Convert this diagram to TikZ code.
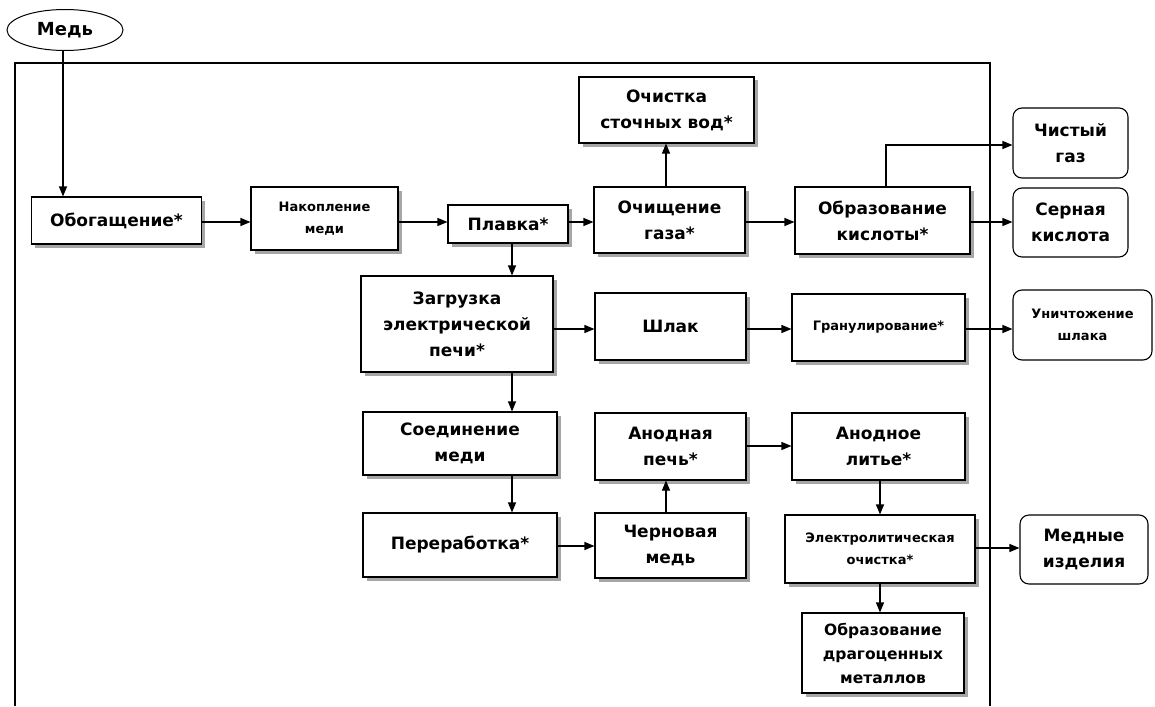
\documentclass[tikz,border=0pt]{standalone}
\usepackage{fontspec}
\setmainfont{DejaVu Sans}
\usetikzlibrary{shapes.geometric, arrows.meta, positioning, shadows}

\tikzset{
  proc/.style={draw, line width=1.1pt, fill=white, align=center, inner sep=0pt,
    font=\bfseries\fontsize{17}{26}\selectfont,
    drop shadow={shadow xshift=3.5pt, shadow yshift=-3.5pt, fill=gray!70, opacity=1}},
  small/.style={font=\bfseries\fontsize{13}{22}\selectfont},
  outbox/.style={draw, line width=1.1pt, rounded corners=9pt, fill=white, align=center,
    inner sep=0pt, font=\bfseries\fontsize{17}{26}\selectfont},
  arr/.style={-{Triangle[length=10pt,width=8pt]}, line width=1.1pt}
}

\begin{document}
\begin{tikzpicture}[x=1pt, y=-1pt]
\useasboundingbox (0,0) rectangle (1155,706);

% frame
\draw[line width=1.1pt] (15,706) -- (15,63) -- (990,63) -- (990,706);

% source
\node[draw, ellipse, line width=1pt, minimum width=116pt, minimum height=41pt, inner sep=0pt,
  font=\bfseries\fontsize{18}{20}\selectfont] (med) at (65,30) {Медь};

% top row
\node[proc, minimum width=170pt, minimum height=47pt] (obog) at (116.5,220.5) {Обогащение*};
\node[proc, small, minimum width=147pt, minimum height=63pt] (nakop) at (324.5,218.5) {Накопление\\меди};
\node[proc, minimum width=120pt, minimum height=38pt] (plavka) at (508,224) {Плавка*};
\node[proc, minimum width=151pt, minimum height=66pt] (ochgaz) at (669.5,220) {Очищение\\газа*};
\node[proc, minimum width=175pt, minimum height=66pt] (ochvod) at (666.5,110) {Очистка\\сточных вод*};
\node[proc, minimum width=175pt, minimum height=67pt] (obrkis) at (882.5,220.5) {Образование\\кислоты*};
\node[outbox, minimum width=115pt, minimum height=70pt] (gaz) at (1070.5,143) {Чистый\\газ};
\node[outbox, minimum width=115pt, minimum height=69pt] (kisl) at (1070.5,222.5) {Серная\\кислота};

% middle row
\node[proc, minimum width=192pt, minimum height=96pt] (zagr) at (457,324) {Загрузка\\электрической\\печи*};
\node[proc, minimum width=151pt, minimum height=67pt] (shlak) at (670.5,326.5) {Шлак};
\node[proc, small, minimum width=173pt, minimum height=67pt] (granul) at (878.5,327.5) {Гранулирование*};
\node[outbox, small, minimum width=139pt, minimum height=70pt] (unich) at (1082.5,325) {Уничтожение\\шлака};

% lower rows
\node[proc, minimum width=194pt, minimum height=63pt] (soed) at (460,443.5) {Соединение\\меди};
\node[proc, minimum width=194pt, minimum height=64pt] (perer) at (460,545) {Переработка*};
\node[proc, minimum width=151pt, minimum height=67pt] (anpech) at (670.5,446.5) {Анодная\\печь*};
\node[proc, minimum width=151pt, minimum height=65pt] (chern) at (670.5,545.5) {Черновая\\медь};
\node[proc, minimum width=173pt, minimum height=67pt] (anlit) at (878.5,446.5) {Анодное\\литье*};
\node[proc, small, minimum width=190pt, minimum height=68pt] (elektr) at (880,549) {Электролитическая\\очистка*};
\node[proc, font=\bfseries\fontsize{15.5}{24}\selectfont, minimum width=162pt, minimum height=80pt] (drag) at (883,653) {Образование\\драгоценных\\металлов};
\node[outbox, minimum width=128pt, minimum height=69pt] (izd) at (1084,549.5) {Медные\\изделия};

% connectors
\draw[arr] ([xshift=-2pt]med.south) -- ([xshift=-2pt]med.south |- obog.north);
\draw[arr] (obog.east |- 0,222) -- (nakop.west |- 0,222);
\draw[arr] (nakop.east |- 0,222) -- (plavka.west |- 0,222);
\draw[arr] (plavka.east |- 0,222) -- (ochgaz.west |- 0,222);
\draw[arr] (ochgaz.north -| 666,0) -- (ochvod.south -| 666,0);
\draw[arr] (ochgaz.east |- 0,222) -- (obrkis.west |- 0,222);
\draw[arr] (obrkis.north -| 886,0) |- (gaz.west |- 0,145);
\draw[arr] (obrkis.east |- 0,222) -- (kisl.west |- 0,222);
\draw[arr] (plavka.south -| 512,0) -- (zagr.north -| 512,0);
\draw[arr] (zagr.east |- 0,329) -- (shlak.west |- 0,329);
\draw[arr] (shlak.east |- 0,329) -- (granul.west |- 0,329);
\draw[arr] (granul.east |- 0,329) -- (unich.west |- 0,329);
\draw[arr] (zagr.south -| 512,0) -- (soed.north -| 512,0);
\draw[arr] (soed.south -| 512,0) -- (perer.north -| 512,0);
\draw[arr] (perer.east |- 0,546) -- (chern.west |- 0,546);
\draw[arr] (chern.north -| 666,0) -- (anpech.south -| 666,0);
\draw[arr] (anpech.east |- 0,446) -- (anlit.west |- 0,446);
\draw[arr] (anlit.south -| 880,0) -- (elektr.north -| 880,0);
\draw[arr] (elektr.east |- 0,548) -- (izd.west |- 0,548);
\draw[arr] (elektr.south -| 880,0) -- (drag.north -| 880,0);
\end{tikzpicture}
\end{document}
